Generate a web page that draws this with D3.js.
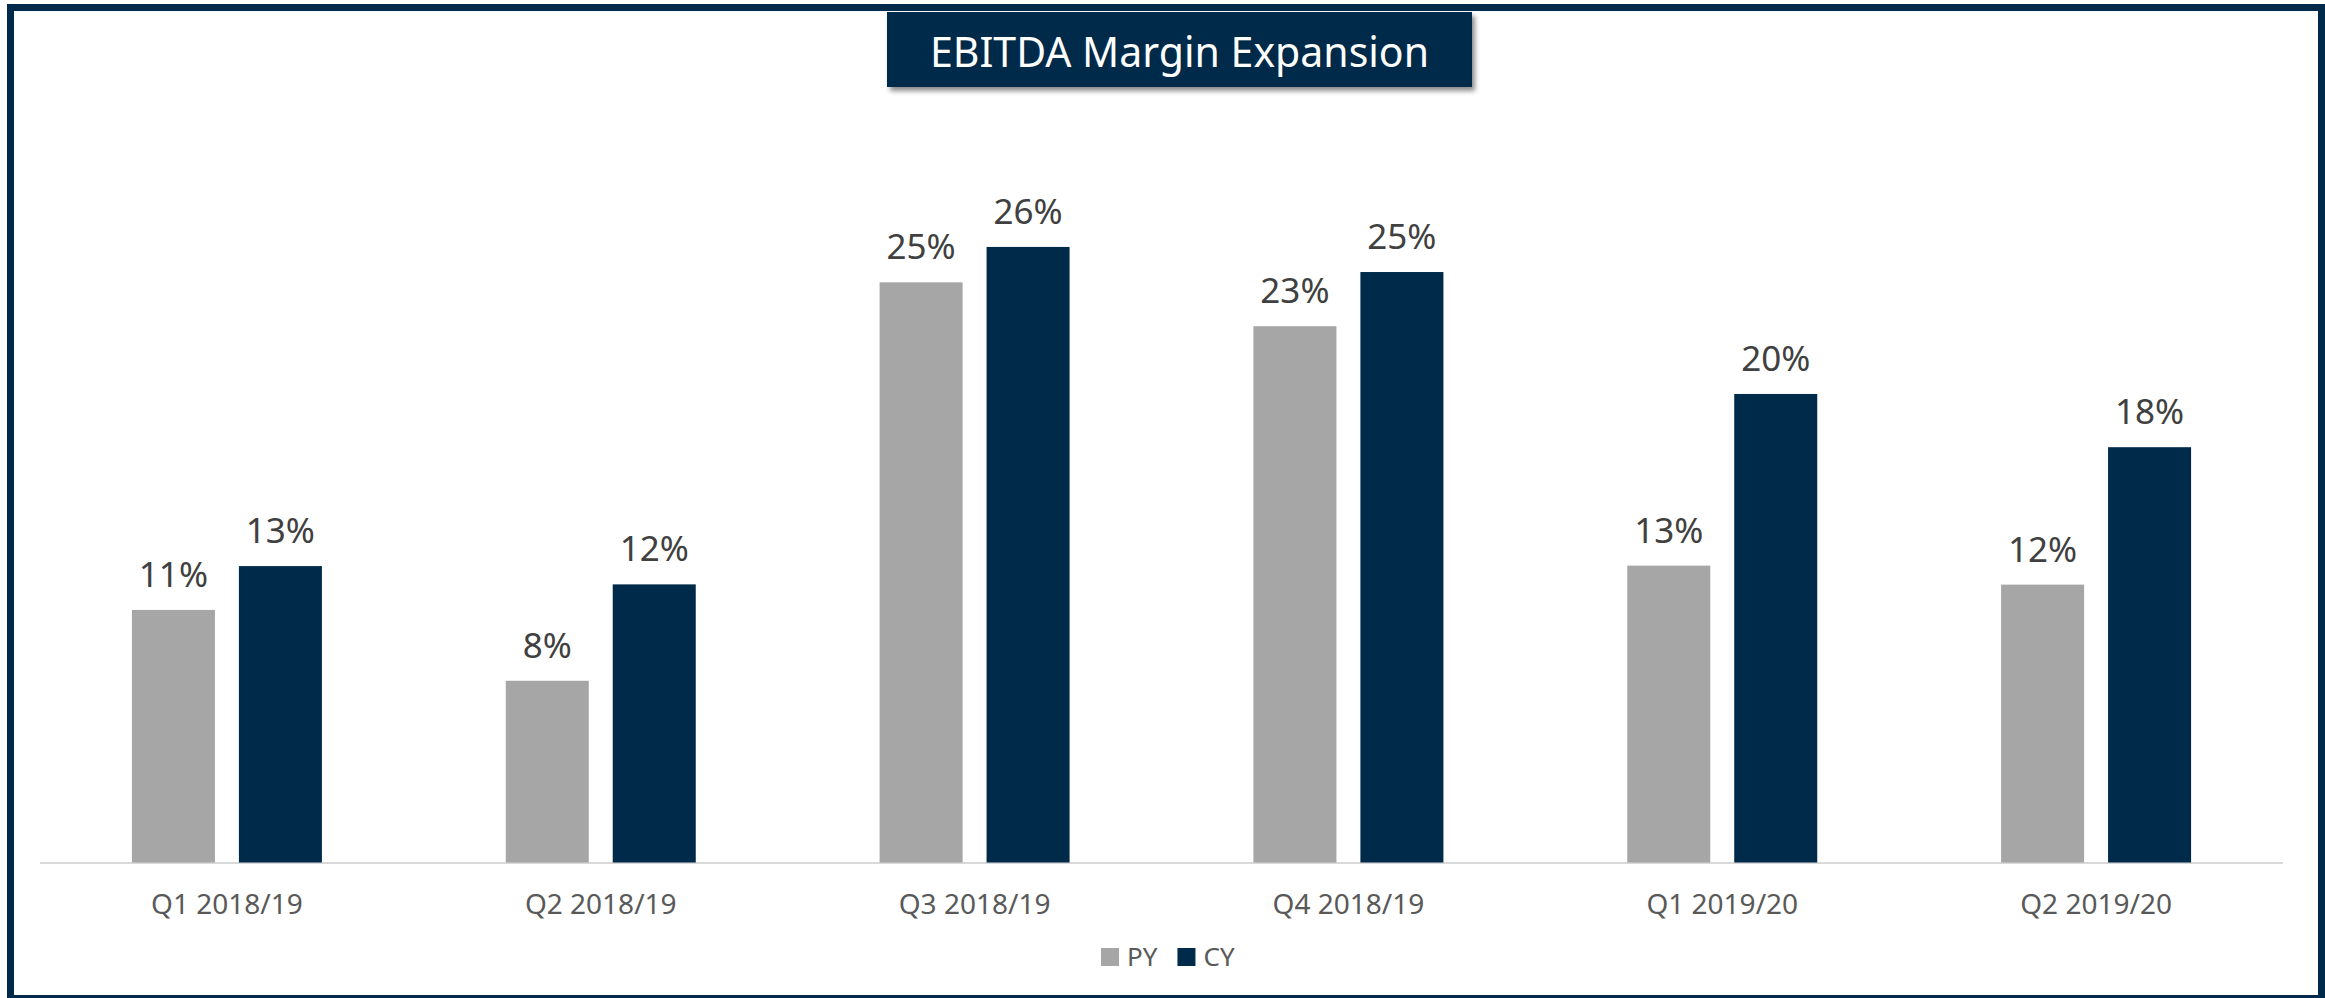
<!DOCTYPE html>
<html>
<head>
<meta charset="utf-8">
<script src="https://cdn.jsdelivr.net/npm/d3@7"></script>
<style>
  html, body { margin: 0; padding: 0; background: #fff; }
  svg { display: block; font-family: "Noto Sans", "Open Sans", sans-serif; }
</style>
</head>
<body>
<script>
var width = 2325, height = 998;

// chart data
var categories = ["Q1 2018/19", "Q2 2018/19", "Q3 2018/19", "Q4 2018/19", "Q1 2019/20", "Q2 2019/20"];
var series = ["PY", "CY"];
var pyValues = [0.1077, 0.0775, 0.2474, 0.2287, 0.1266, 0.1185];
var cyValues = [0.1264, 0.1186, 0.2625, 0.2518, 0.1998, 0.1771];
var colors = {PY: "#a6a6a6", CY: "#002a4a"};

var navy = "#002a4a";
var plot = {left: 40, right: 2283, base: 862.5};

var svg = d3.select("body").append("svg")
    .attr("width", width)
    .attr("height", height);

// shadow for title box
var defs = svg.append("defs");
var f = defs.append("filter").attr("id", "shadow")
    .attr("x", "-5%").attr("y", "-20%").attr("width", "115%").attr("height", "150%");
f.append("feDropShadow")
    .attr("dx", 3).attr("dy", 4)
    .attr("stdDeviation", 2.5)
    .attr("flood-color", "#000")
    .attr("flood-opacity", 0.45);

// outer frame
svg.append("rect")
    .attr("x", 10.5).attr("y", 7.5)
    .attr("width", 2311).attr("height", 991)
    .attr("fill", "none")
    .attr("stroke", navy)
    .attr("stroke-width", 7);

var x0 = d3.scaleBand()
    .domain(categories)
    .range([plot.left, plot.right])
    .padding(0);

var x1 = d3.scaleBand()
    .domain(series)
    .range([x0.bandwidth() / 2 - 95, x0.bandwidth() / 2 + 95])
    .paddingInner(0.224);

var y = d3.scaleLinear()
    .domain([0, 0.30])
    .range([plot.base, plot.base - 30 * 23.45]);

var fmt = d3.format(".0%");

var rows = categories.map(function(c, i) {
  return {cat: c, values: [{key: "PY", v: pyValues[i]}, {key: "CY", v: cyValues[i]}]};
});

// axis line
svg.append("line")
    .attr("x1", plot.left).attr("x2", plot.right)
    .attr("y1", plot.base + 0.5).attr("y2", plot.base + 0.5)
    .attr("stroke", "#d9d9d9")
    .attr("stroke-width", 2);

var groups = svg.selectAll("g.grp")
    .data(rows)
    .enter().append("g")
    .attr("class", "grp")
    .attr("transform", function(d) { return "translate(" + x0(d.cat) + ",0)"; });

groups.selectAll("rect")
    .data(function(d) { return d.values; })
    .enter().append("rect")
    .attr("x", function(d) { return x1(d.key); })
    .attr("width", x1.bandwidth())
    .attr("y", function(d) { return y(d.v); })
    .attr("height", function(d) { return y(0) - y(d.v); })
    .attr("fill", function(d) { return colors[d.key]; });

groups.selectAll("text.val")
    .data(function(d) { return d.values; })
    .enter().append("text")
    .attr("class", "val")
    .attr("x", function(d) { return x1(d.key) + x1.bandwidth() / 2; })
    .attr("y", function(d) { return y(d.v) - 23; })
    .attr("text-anchor", "middle")
    .attr("font-size", "35px")
    .attr("fill", "#404040")
    .text(function(d) { return fmt(d.v); });

// category labels
svg.selectAll("text.cat")
    .data(categories)
    .enter().append("text")
    .attr("class", "cat")
    .attr("x", function(d) { return x0(d) + x0.bandwidth() / 2; })
    .attr("y", 914)
    .attr("text-anchor", "middle")
    .attr("font-size", "28px")
    .attr("fill", "#595959")
    .text(function(d) { return d; });

// legend
var legend = svg.append("g").attr("transform", "translate(1101,948)");
var lx = 0;
series.forEach(function(s) {
  legend.append("rect")
      .attr("x", lx).attr("y", 0)
      .attr("width", 18).attr("height", 18)
      .attr("fill", colors[s]);
  var t = legend.append("text")
      .attr("x", lx + 26).attr("y", 18)
      .attr("font-size", "26px")
      .attr("fill", "#595959")
      .text(s);
  lx += 26 + t.node().getComputedTextLength() + 20;
});

// title box
svg.append("rect")
    .attr("x", 887).attr("y", 12)
    .attr("width", 585).attr("height", 75)
    .attr("fill", navy)
    .attr("filter", "url(#shadow)");

svg.append("text")
    .attr("x", 887 + 585 / 2)
    .attr("y", 66.5)
    .attr("text-anchor", "middle")
    .attr("font-size", "41px")
    .attr("fill", "#ffffff")
    .text("EBITDA Margin Expansion");
</script>
</body>
</html>
